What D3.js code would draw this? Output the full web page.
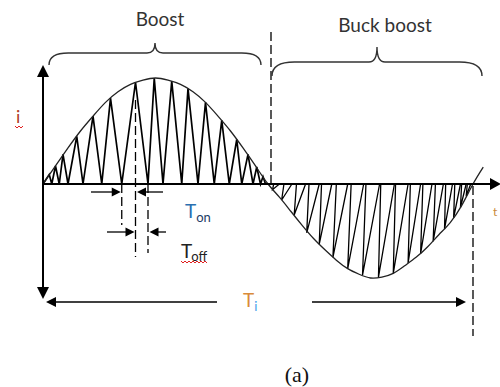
<!DOCTYPE html>
<html>
<head>
<meta charset="utf-8">
<script src="https://d3js.org/d3.v7.min.js"></script>
<style>
  body { margin: 0; background: #fff; }
</style>
</head>
<body>
<script>
// envelope of the line current, phase in degrees, value relative to peak
var envPhase = [0, 10, 20, 30, 40, 50, 60, 70, 80, 90, 100, 110, 120, 130, 140, 150, 160, 170, 180,
                190, 200, 210, 220, 230, 240, 250, 260, 270, 280, 290, 300, 310, 320, 330, 340, 350, 360, 369];
var envValue = [0, .17, .34, .5, .64, .77, .87, .94, .98, 1, .98, .94, .87, .77, .64, .5, .34, .17, 0,
                -.14, -.29, -.44, -.58, -.70, -.81, -.90, -.96, -1, -.99, -.95, -.87, -.78, -.67, -.54, -.41, -.23, 0, .16];

// boost half: triangle teeth (valleys on the axis, peaks on the envelope)
var boostValley = [0, 7, 13, 20, 32, 47, 63, 84, 96, 111, 124, 137, 149, 159, 168, 174, 178];
var boostPeak = [5, 10, 16, 27, 40, 54, 74, 89, 103, 116, 130, 143, 155, 164, 171, 176];
var boostPeakValue = [.09, .17, .28, .45, .64, .81, .96, 1, .97, .90, .77, .60, .42, .28, .16, .07];

// buck boost half: V teeth (left top, tip on envelope, right top)
var bbLeft = [185, 194, 205, 216, 227, 240, 253, 266, 279, 292, 305, 316, 327, 336, 344, 350, 355];
var bbTip = [184, 192, 203, 214, 225, 237, 250, 263, 277, 290, 303, 314, 325, 335, 343, 349, 354];
var bbTipValue = [-.06, -.17, -.33, -.52, -.64, -.78, -.90, -.97, -.99, -.95, -.84, -.74, -.61, -.48, -.36, -.25, -.13];
var bbRight = [190, 201, 213, 225, 236, 250, 264, 278, 291, 303, 314, 324, 334, 342, 349, 354, 358];

// switching interval marked on the drawing (valley, peak, valley)
var tOn = [63, 74];
var tOff = [74, 84];

var svg = d3.select("body").append("svg")
            .attr("width", 500)
            .attr("height", 387)
            .style("font-family", "Lato, 'Open Sans', sans-serif");

var x = d3.scaleLinear().domain([0, 180, 360]).range([43, 268, 473]);
var y = d3.scaleLinear().domain([-1, 0, 1]).range([278, 184, 78]);

function arrowHead(tx, ty, dir, len, half) {
    // dir: "r", "l", "u", "d"
    var p;
    if (dir == "r") p = [[tx, ty], [tx - len, ty - half], [tx - len, ty + half]];
    else if (dir == "l") p = [[tx, ty], [tx + len, ty - half], [tx + len, ty + half]];
    else if (dir == "u") p = [[tx, ty], [tx - half, ty + len], [tx + half, ty + len]];
    else p = [[tx, ty], [tx - half, ty - len], [tx + half, ty - len]];
    svg.append("polygon")
        .attr("points", p.map(function(d){return d.join(",")}).join(" "))
        .attr("fill", "black");
}

function line(x1, y1, x2, y2, w, dash) {
    var l = svg.append("line")
        .attr("x1", x1).attr("y1", y1).attr("x2", x2).attr("y2", y2)
        .attr("stroke", "black")
        .attr("stroke-width", w);
    if (dash) l.attr("stroke-dasharray", dash);
    return l;
}

// teeth of the boost half
var boostPts = [];
for (var i = 0; i < boostValley.length; i++) {
    boostPts.push([boostValley[i], 0]);
    if (i < boostPeak.length) boostPts.push([boostPeak[i], boostPeakValue[i]]);
}
svg.append("path")
    .attr("d", d3.line().x(function(d){return x(d[0])}).y(function(d){return y(d[1])})(boostPts))
    .attr("fill", "none")
    .attr("stroke", "black")
    .attr("stroke-width", 1.7)
    .attr("stroke-linejoin", "miter");

// teeth of the buck boost half
svg.selectAll(".bb")
    .data(bbLeft)
    .enter().append("path")
    .attr("class", "bb")
    .attr("d", function(d, i){
        return d3.line()([[x(d), y(0)], [x(bbTip[i]), y(bbTipValue[i])], [x(bbRight[i]), y(0)]]);
    })
    .attr("fill", "none")
    .attr("stroke", "black")
    .attr("stroke-width", 1.3);

// envelope
var env = envPhase.map(function(d, i){return [d, envValue[i]]});
svg.append("path")
    .attr("d", d3.line().curve(d3.curveNatural)
        .x(function(d){return x(d[0])}).y(function(d){return y(d[1])})(env))
    .attr("fill", "none")
    .attr("stroke", "#222")
    .attr("stroke-width", 1.3);

// axes
line(43, 74, 43, 290, 2);
arrowHead(43, 65, "u", 12, 6);
arrowHead(43, 299, "d", 12, 6);
line(43, y(0), 492, y(0), 2);
arrowHead(501, y(0), "r", 11, 6);

// dashed separators
line(x(180) + 3, 32, x(180) + 3, y(0), 1.3, "9,4");
line(x(360), y(0) + 2, x(360), 336, 1.3, "9,4");

// Ton / Toff markers
line(x(tOn[0]), y(0), x(tOn[0]), 225, 1.3, "9,4");
line(x(tOn[1]), 100, x(tOn[1]), 257, 1.3, "9,4");
line(x(tOff[1]), y(0), x(tOff[1]), 253, 1.3, "9,4");

line(91, 192, x(tOn[0]) - 6, 192, 1.3);
arrowHead(x(tOn[0]) - 1, 192, "r", 9, 4.5);
line(163, 192, x(tOn[1]) + 6, 192, 1.3);
arrowHead(x(tOn[1]) + 1.5, 192, "l", 9, 4.5);

line(107, 232, x(tOff[0]) - 6, 232, 1.3);
arrowHead(x(tOff[0]) - 1, 232, "r", 9, 4.5);
line(166, 232, x(tOff[1]) + 6, 232, 1.3);
arrowHead(x(tOff[1]) + 1.5, 232, "l", 9, 4.5);

// Ti arrows
line(217, 302, 54, 302, 1.3);
arrowHead(46, 302, "l", 10, 5);
line(312, 302, 456, 302, 1.3);
arrowHead(466, 302, "r", 10, 5);

// braces
function brace(x1, x2, yEnd, yBar, yTop) {
    var xm = (x1 + x2) / 2;
    var r = yEnd - yBar;
    var d = "M" + x1 + "," + yEnd +
        " Q" + x1 + "," + yBar + " " + (x1 + r * 1.6) + "," + yBar +
        " L" + (xm - 8) + "," + yBar +
        " Q" + xm + "," + yBar + " " + xm + "," + yTop +
        " Q" + xm + "," + yBar + " " + (xm + 8) + "," + yBar +
        " L" + (x2 - r * 1.6) + "," + yBar +
        " Q" + x2 + "," + yBar + " " + x2 + "," + yEnd;
    svg.append("path")
        .attr("d", d)
        .attr("fill", "none")
        .attr("stroke", "#333")
        .attr("stroke-width", 1.4);
}
brace(49, 261, 65, 53, 43);
brace(272, 482, 76, 62, 47);

// labels
svg.append("text").attr("x", 160).attr("y", 26).attr("text-anchor", "middle")
    .attr("font-size", 19).attr("fill", "#333").text("Boost");
svg.append("text").attr("x", 385).attr("y", 32).attr("text-anchor", "middle")
    .attr("font-size", 19).attr("fill", "#333").text("Buck boost");

svg.append("text").attr("x", 16).attr("y", 123).attr("font-size", 18)
    .attr("fill", "#b0402a").text("i");

var ton = svg.append("text").attr("x", 185).attr("y", 218).attr("font-size", 19).attr("fill", "#2a6fb0");
ton.append("tspan").text("T");
ton.append("tspan").attr("font-size", 13).attr("dy", 4).attr("fill", "#1d3d66").text("on");

var toff = svg.append("text").attr("x", 181).attr("y", 258).attr("font-size", 19).attr("fill", "#222");
toff.append("tspan").text("T");
toff.append("tspan").attr("font-size", 13).attr("dy", 3).attr("dx", -1).text("off");

var ti = svg.append("text").attr("x", 243).attr("y", 307).attr("font-size", 19).attr("fill", "#d98a3a");
ti.append("tspan").text("T");
ti.append("tspan").attr("font-size", 13).attr("dy", 4).attr("fill", "#3d9be9").text("i");

svg.append("text").attr("x", 493).attr("y", 216).attr("font-size", 12).attr("fill", "#c98a3a").text("t");

svg.append("text").attr("x", 297).attr("y", 382).attr("text-anchor", "middle")
    .style("font-family", "'Liberation Serif', 'DejaVu Serif', serif")
    .attr("font-size", 22).attr("fill", "#111").text("(a)");

// red spell-check squiggles
function squiggle(x1, x2, yy) {
    var pts = [];
    var k = 0;
    for (var xx = x1; xx <= x2; xx += 2) { pts.push([xx, yy + (k % 2 ? 2 : 0)]); k++; }
    svg.append("path").attr("d", d3.line()(pts))
        .attr("fill", "none").attr("stroke", "#e02020").attr("stroke-width", 1);
}
squiggle(15, 23, 126);
squiggle(181, 207, 261);
</script>
</body>
</html>
